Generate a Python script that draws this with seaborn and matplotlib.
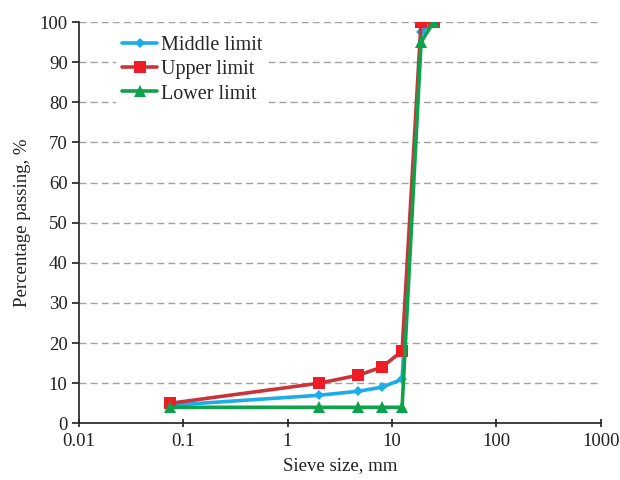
import matplotlib
matplotlib.use("Agg")
import matplotlib.pyplot as plt
import seaborn as sns
import pandas as pd

sieve_mm = [0.075, 2, 4.75, 8, 12.5, 19, 25]
middle_limit = [4.5, 7, 8, 9, 11, 97.5, 100]
upper_limit = [5, 10, 12, 14, 18, 100, 100]
lower_limit = [4, 4, 4, 4, 4, 95, 100]
x_ticks = [0.01, 0.1, 1, 10, 100, 1000]
x_tick_labels = ["0.01", "0.1", "1", "10", "100", "1000"]

sns.set_theme(style="white")
plt.rcParams['font.family'] = ['Liberation Serif', 'DejaVu Serif']

fig = plt.figure(figsize=(6.2, 4.8), dpi=100)
ax = fig.add_axes([0.127, 0.118, 0.842, 0.836])

series = [
    ("Middle limit", middle_limit, "#1AADE8", "#1AADE8", "D", 5),
    ("Upper limit", upper_limit, "#C9343A", "#EE1C25", "s", 9),
    ("Lower limit", lower_limit, "#0EA24B", "#0EA24B", "^", 8),
]
for name, vals, lc, mc, mk, ms in series:
    df = pd.DataFrame({"x": sieve_mm, "y": vals})
    sns.lineplot(data=df, x="x", y="y", ax=ax, color=lc, linewidth=2.6,
                 marker=mk, markersize=ms, markerfacecolor=mc,
                 markeredgecolor=mc, markeredgewidth=0, label=name)

ax.set_xscale("log")
ax.set_xlim(0.01, 1000)
ax.set_ylim(0, 100)
ax.set_xticks(x_ticks)
ax.set_xticklabels(x_tick_labels)
ax.minorticks_off()
ax.set_yticks(range(0, 101, 10))
ax.yaxis.grid(True, linestyle=(0, (5, 3)), color="#A0A0A0", linewidth=1.0)
ax.xaxis.grid(False)
ax.set_axisbelow(True)

for s in ["top", "right"]:
    ax.spines[s].set_visible(False)
for s in ["left", "bottom"]:
    ax.spines[s].set_color("#231F20")
    ax.spines[s].set_linewidth(1.2)

ax.tick_params(axis="x", direction="inout", length=6, width=1.2, color="#231F20",
               labelsize=13.5, labelcolor="#231F20", bottom=True, pad=4)
ax.tick_params(axis="y", direction="out", length=5, width=1.2, color="#231F20",
               labelsize=13.5, labelcolor="#231F20", left=True, pad=3)

ax.set_xlabel("Sieve size, mm", fontsize=13.5, color="#231F20", labelpad=5)
ax.set_ylabel("Percentage passing, %", fontsize=13.5, color="#231F20", labelpad=6)

leg = ax.legend(loc="upper left", bbox_to_anchor=(0.06, 0.995), frameon=True,
                fontsize=14.5, handlelength=1.75, handletextpad=0.2,
                labelspacing=0.25, borderpad=0.3, borderaxespad=0.3)
leg.get_frame().set_facecolor("white")
leg.get_frame().set_edgecolor("none")
leg.get_frame().set_alpha(1.0)

fig.savefig("out.png", dpi=100)
